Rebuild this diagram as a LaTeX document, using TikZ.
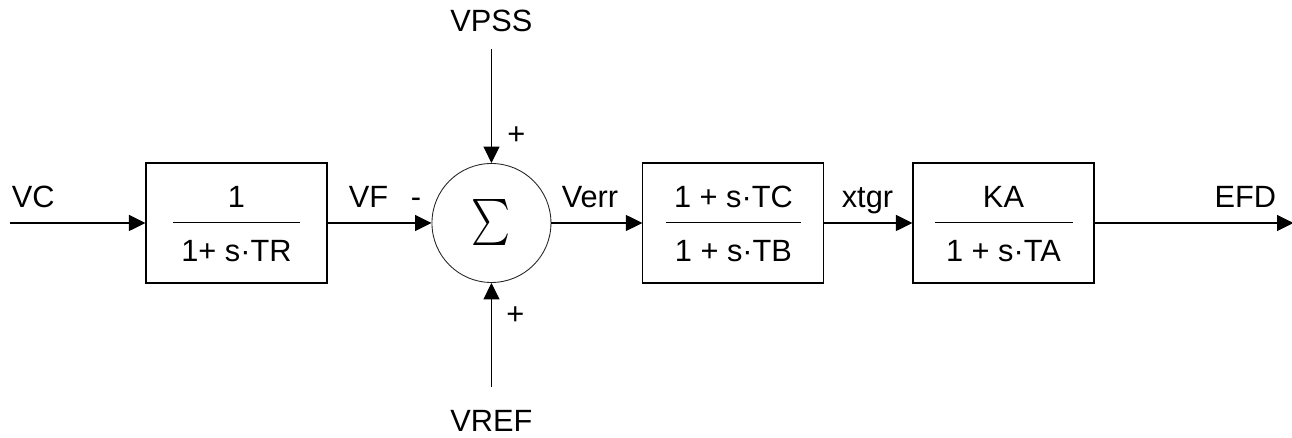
\documentclass[tikz,border=0pt]{standalone}
\usepackage{fontspec}
\setmainfont{Liberation Sans}
\usepackage{tikz}
\usetikzlibrary{positioning,arrows.meta}
\newcommand{\diafont}{\fontsize{17.5}{21}\selectfont}
\newcommand{\gainfrac}[3]{\rule{0pt}{13.3pt}#2\\[-12.5pt]\rule{#1}{0.6pt}\\[0.8pt]#3}
\tikzset{
  block/.style={rectangle, draw=black, line width=0.6pt, minimum width=36.2mm,
                minimum height=24mm, inner sep=0pt, font=\diafont, align=center},
  summer/.style={circle, draw=black!85, line width=0.5pt, minimum size=23.8mm, inner sep=0pt},
  sig/.style={font=\diafont, inner sep=0pt, text depth=0pt},
  sgn/.style={font=\diafont, inner sep=0pt},
  arr/.style={-{Triangle[length=3.3mm, width=3.2mm]}, line width=0.6pt, draw=black},
}

\begin{document}
\begin{tikzpicture}
    \useasboundingbox (0,0) rectangle (25.84,8.76);
    %% --- forward path ---
    \node[block] (lag_r) at (4.73,4.30) {\gainfrac{2.54cm}{1}{1+ s·TR}};
    \node[summer, right=2.08cm of lag_r] (sum_v) {\resizebox*{0.78cm}{0.92cm}{$\sum$}\hspace{0.18cm}};
    \node[block, right=1.82cm of sum_v] (lead_c) {\gainfrac{2.70cm}{1 + s·TC}{1 + s·TB}};
    \node[block, right=1.76cm of lead_c] (amp_a) {\gainfrac{2.76cm}{KA}{1 + s·TA}};
    \coordinate[left=2.70cm of lag_r] (in_vc);
    \coordinate[right=3.98cm of amp_a] (out_efd);
    \coordinate[above=2.28cm of sum_v] (in_vpss);
    \coordinate[below=2.08cm of sum_v] (in_vref);
    \draw[arr] (in_vc) -- (lag_r);
    \draw[arr] (lag_r) -- (sum_v);
    \draw[arr] (sum_v) -- (lead_c);
    \draw[arr] (lead_c) -- (amp_a);
    \draw[arr] (amp_a) -- (out_efd);
    \draw[arr] (in_vpss) -- (sum_v);
    \draw[arr] (in_vref) -- (sum_v);

    %% --- signal names ---
    \node[sig, above right=0.30cm and 0.02cm of in_vc] (lbl_vc) {VC};
    \node[sig, above right=0.30cm and 0.42cm of lag_r.east] (lbl_vf) {VF};
    \node[sig, above right=0.30cm and 0.20cm of sum_v.east] (lbl_verr) {Verr};
    \node[sig, above right=0.30cm and 0.34cm of lead_c.east] (lbl_xtgr) {xtgr};
    \node[sig, above left=0.30cm and 0.34cm of out_efd] (lbl_efd) {EFD};
    \node[sig, above=0.34cm of in_vpss] (lbl_vpss) {VPSS};
    \node[sig, below=0.46cm of in_vref] (lbl_vref) {VREF};

    %% --- signs at the summer ---
    \node[sig, above left=0.30cm and 0.20cm of sum_v.west] (sg_vf) {-};
    \node[sgn] (sg_vpss) at ([shift={(0.50,0.54)}]sum_v.north) {+};
    \node[sgn] (sg_vref) at ([shift={(0.48,-0.66)}]sum_v.south) {+};
\end{tikzpicture}
\end{document}
